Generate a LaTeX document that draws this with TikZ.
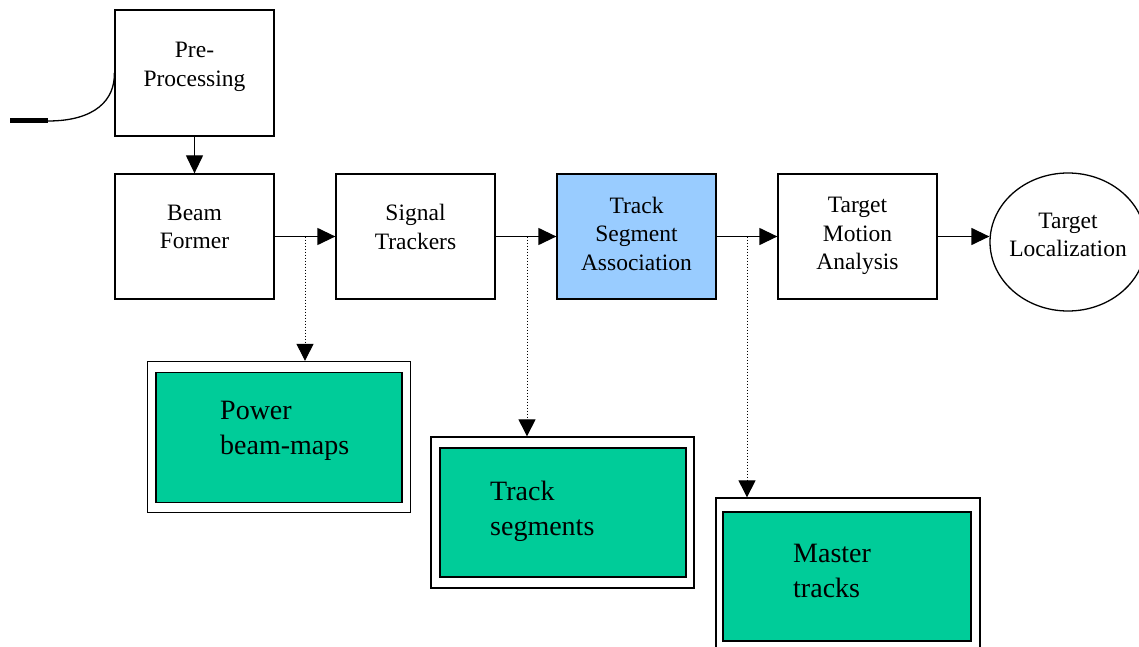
\documentclass[tikz,border=0pt]{standalone}
\usepackage{fontspec}
\setmainfont{Liberation Serif}
\usetikzlibrary{arrows.meta,shapes.geometric}
\definecolor{seagreen}{HTML}{00CC99}
\definecolor{skyblue}{HTML}{99CCFF}
\tikzset{
  block/.style={draw=black, line width=1.3pt, fill=white, minimum width=159pt, minimum height=125pt, inner sep=0pt},
  blocktext/.style={align=center, inner sep=0pt, font=\fontsize{23.5}{28.5}\selectfont},
  store/.style={draw=black, line width=1.3pt, fill=white, inner sep=0pt},
  storefill/.style={draw=black, line width=1.3pt, fill=seagreen, inner sep=0pt},
  storetext/.style={align=left, anchor=west, inner sep=0pt, font=\fontsize{28}{35}\selectfont},
  flow/.style={line width=1.3pt, -{Triangle[length=18pt,width=17pt]}},
  tap/.style={line width=1pt, dotted, -{Triangle[length=17pt,width=17pt]}}
}
\begin{document}
\begin{tikzpicture}[x=1pt,y=-1pt]
\useasboundingbox (0,0) rectangle (1139,647);
\clip (0,0) rectangle (1139,647);

% processing chain
\node[block, minimum height=126pt] (pre) at (194.5,73) {};
\node[blocktext] (pre-t) at (194.5,67) {Pre-\\Processing};
\node[block] (beam) at (194.5,236.5) {};
\node[blocktext] (beam-t) at (194.5,227) {Beam\\Former};
\node[block] (sig) at (415.5,236.5) {};
\node[blocktext] (sig-t) at (415.5,227) {Signal\\Trackers};
\node[block, fill=skyblue] (tsa) at (636.5,236.5) {};
\node[blocktext] (tsa-t) at (636.5,233.5) {Track\\Segment\\Association};
\node[block] (tma) at (857.5,236.5) {};
\node[blocktext] (tma-t) at (857.5,236) {Target\\Motion\\Analysis};
\node[draw=black, line width=1.3pt, ellipse, minimum width=156pt, minimum height=138pt, inner sep=0pt] (loc) at (1068,242) {};
\node[blocktext] (loc-t) at (1068,235) {Target\\Localization};

% sensor input
\coordinate (in0) at (10,121);
\coordinate (in1) at (48,121);
\draw[line width=5pt] (in0) -- (in1);
\draw[line width=1.3pt] (in1) .. controls (95,121) and (115,100) .. (pre.west);

% main flow
\draw[flow] (pre.south) -- (beam.north);
\draw[flow] (beam.east) -- (sig.west);
\draw[flow] (sig.east) -- (tsa.west);
\draw[flow] (tsa.east) -- (tma.west);
\draw[flow] (tma.east) -- (tma.east -| loc.west);

% data stores
\node[store, minimum width=263pt, minimum height=151pt] (pbm) at (279,437) {};
\node[storefill, minimum width=246pt, minimum height=130pt] (pbm-in) at (279,437.5) {};
\node[storetext] (pbm-t) at (220,430.5) {Power\\beam-maps};

\node[store, minimum width=263pt, minimum height=151pt] (ts) at (562.5,512.5) {};
\node[storefill, minimum width=246pt, minimum height=129pt] (ts-in) at (563,512.5) {};
\node[storetext] (ts-t) at (490,511.5) {Track\\segments};

\node[store, minimum width=264pt, minimum height=151pt] (mt) at (848,573.5) {};
\node[storefill, minimum width=248pt, minimum height=129pt] (mt-in) at (847,576.5) {};
\node[storetext] (mt-t) at (793,570.5) {Master\\tracks};

% taps into the stores
\coordinate (tap1) at (305,236.5);
\coordinate (tap2) at (527,236.5);
\coordinate (tap3) at (747,236.5);
\draw[tap] (tap1) -- (tap1 |- pbm.north);
\draw[tap] (tap2) -- (tap2 |- ts.north);
\draw[tap] (tap3) -- (tap3 |- mt.north);
\end{tikzpicture}
\end{document}
